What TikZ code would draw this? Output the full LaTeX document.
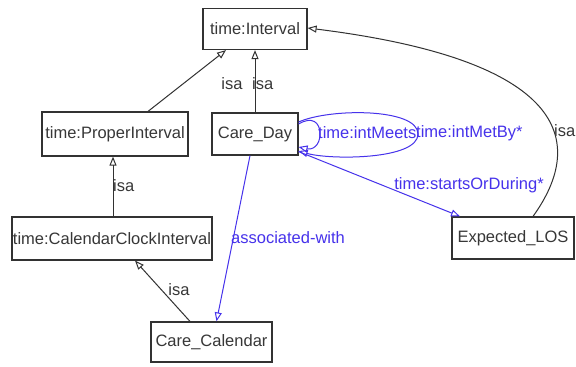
\documentclass[tikz,border=0pt]{standalone}
\usepackage{fontspec}
\setmainfont{Liberation Sans}
\usetikzlibrary{arrows.meta}
\definecolor{boxgray}{RGB}{50,50,50}
\definecolor{edgegray}{RGB}{50,50,50}
\definecolor{labgray}{RGB}{55,55,55}
\definecolor{relblue}{RGB}{70,50,235}
\tikzset{
  cls/.style={draw=boxgray, line width=1.2pt, fill=white, inner sep=0pt,
    font=\fontsize{16.5}{19}\selectfont, text=labgray},
  isaedge/.style={draw=edgegray, line width=1pt,
    -{Triangle[open,length=9pt,width=7pt]}},
  reledge/.style={draw=relblue, line width=1pt,
    -{Triangle[open,length=9pt,width=7pt]}},
  isalab/.style={font=\fontsize{16.5}{19}\selectfont, text=labgray, inner sep=0pt},
  rellab/.style={font=\fontsize{16.5}{19}\selectfont, text=relblue, inner sep=0pt},
}
\begin{document}
\begin{tikzpicture}[x=1pt,y=-1pt]
\useasboundingbox (0,0) rectangle (576,367);
\fill[white] (0,0) rectangle (576,367);

% classes
\node[cls, minimum width=104pt, minimum height=41pt] (interval) at (255,29) {time:Interval};
\node[cls, minimum width=146pt, minimum height=44pt] (proper) at (115,134) {time:ProperInterval};
\node[cls, minimum width=86pt, minimum height=42pt] (careday) at (255,134) {Care\_Day};
\node[cls, minimum width=200pt, minimum height=43pt] (ccint) at (112,238.5) {time:CalendarClockInterval};
\node[cls, minimum width=121pt, minimum height=40pt] (cal) at (211.5,342) {Care\_Calendar};
\node[cls, minimum width=122pt, minimum height=42pt] (los) at (513,238) {Expected\_LOS};

% subclass links
\draw[isaedge] ([xshift=33pt]proper.north) -- ([xshift=-29pt]interval.south);
\node[isalab] (l1) at (232,84) {isa};
\draw[isaedge] (careday.north) -- (interval.south);
\node[isalab, anchor=west] (l2) at (252,84) {isa};
\draw[isaedge] ([xshift=1pt]ccint.north) -- ([xshift=1pt]ccint.north |- proper.south);
\node[isalab, anchor=west] (l3) at (113,186) {isa};
\draw[isaedge] ([xshift=-21.5pt]cal.north) -- ([xshift=23pt]ccint.south);
\node[isalab] (l4) at (179,290) {isa};
\draw[isaedge] ([xshift=20pt]los.north) .. controls (588,140) and (565,60) .. ([yshift=1pt]interval.east);
\node[isalab, anchor=west] (l5) at (554,131) {isa};

% relations
\draw[reledge] ([xshift=-5pt]careday.south) -- ([xshift=5pt]cal.north);
\node[rellab, anchor=west] (r1) at (231,238) {associated-with};
\draw[reledge] ([yshift=4pt]careday.south east) -- ([xshift=-53pt]los.north);
\node[rellab] (r2) at (469,185) {time:startsOrDuring*};
\draw[reledge] ([yshift=12pt]careday.east) .. controls (330,108) and (418,108) .. (418,134)
  .. controls (418,160) and (330,160) .. ([yshift=-17pt]careday.east);
\draw[reledge] ([yshift=10pt]careday.east) .. controls (312,116) and (320,122) .. (320,134)
  .. controls (320,146) and (312,150) .. ([yshift=-13pt]careday.east);
\node[rellab, anchor=west] (r3) at (318,133) {time:intMeets};
\node[rellab, anchor=west] (r4) at (416,133) {time:intMetBy*};
\end{tikzpicture}
\end{document}
